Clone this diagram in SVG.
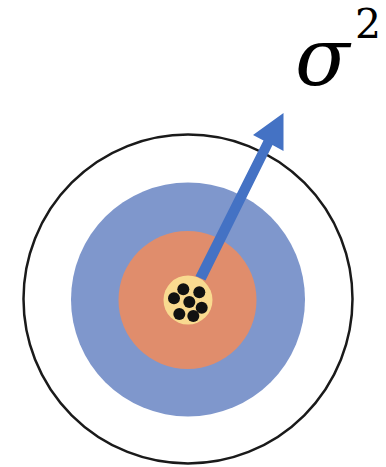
<svg xmlns="http://www.w3.org/2000/svg" width="386" height="467" viewBox="0 0 386 467">
<style>
.dot{fill:#111111}
.lbl{font-family:"DejaVu Serif","Liberation Serif",serif;fill:#000}
</style>
<rect width="386" height="467" fill="#ffffff"/>
<g id="outer"><circle cx="188" cy="299" r="164.5" fill="none" stroke="#1a1a1a" stroke-width="2.5"/></g>
<g id="blue"><circle cx="188" cy="299.5" r="117" fill="#7F97CC"/></g>
<g id="orange"><circle cx="187.5" cy="300" r="69" fill="#E08D6C"/></g>
<g id="connectors">
<polygon points="195.5,276 205.5,280.5 272.5,145 283.5,151 283.5,113 253,135 263.5,140.5" fill="#4472C4"/>
</g>
<g id="core">
<circle cx="188" cy="300" r="24.5" fill="#F9DA90"/>
<circle class="dot" cx="183.3" cy="289.3" r="6"/>
<circle class="dot" cx="199.3" cy="292.3" r="6"/>
<circle class="dot" cx="174" cy="298.3" r="6"/>
<circle class="dot" cx="189.3" cy="302" r="6"/>
<circle class="dot" cx="201.7" cy="307.7" r="6"/>
<circle class="dot" cx="179.3" cy="314" r="6"/>
<circle class="dot" cx="193.3" cy="316" r="6"/>
</g>
<g id="label">
<text class="lbl" x="295" y="85" font-size="80" font-style="italic">σ</text>
<text class="lbl" x="355" y="38" font-size="41">2</text>
</g>
</svg>
